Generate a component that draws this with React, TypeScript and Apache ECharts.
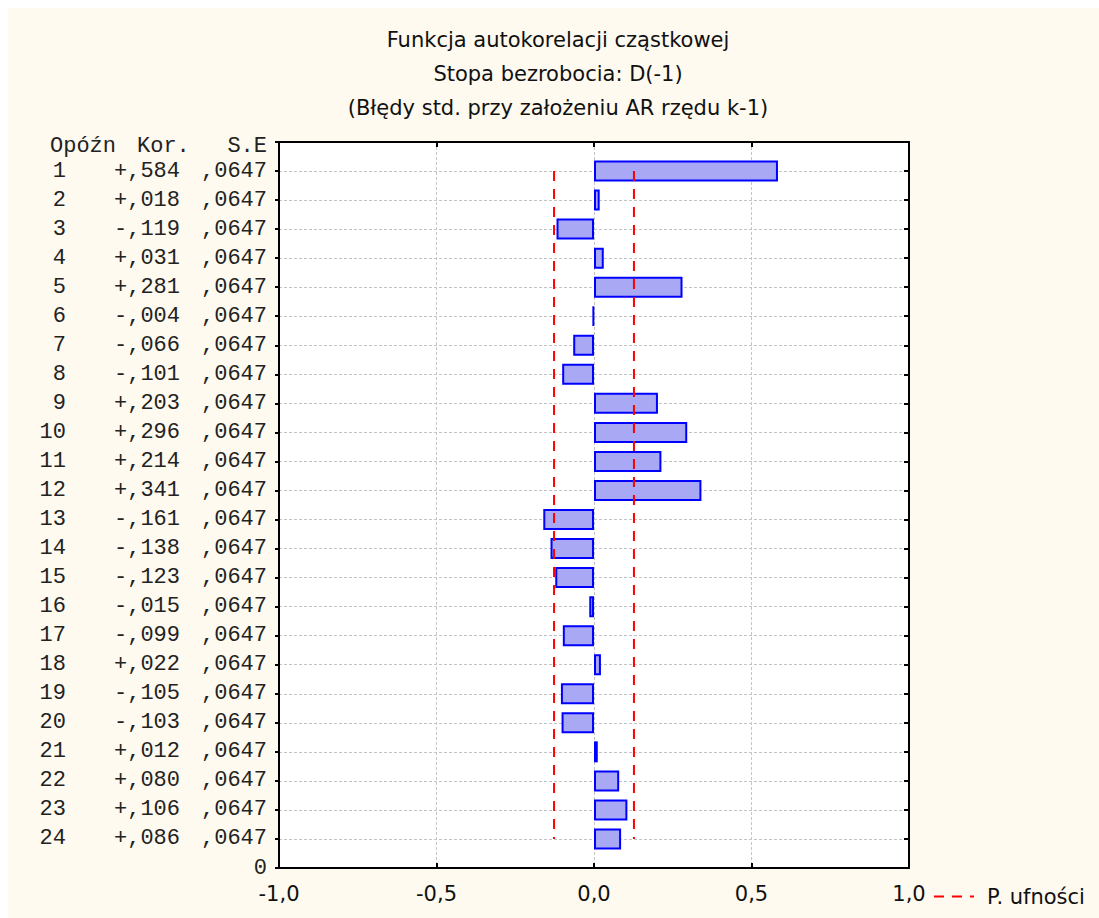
import React, { useEffect, useRef } from 'react';
import * as echarts from 'echarts';

// Partial autocorrelation function of D(-1) unemployment rate
const lags = [1, 2, 3, 4, 5, 6, 7, 8, 9, 10, 11, 12, 13, 14, 15, 16, 17, 18, 19, 20, 21, 22, 23, 24];
const pacf = [
  0.584, 0.018, -0.119, 0.031, 0.281, -0.004, -0.066, -0.101, 0.203, 0.296, 0.214, 0.341,
  -0.161, -0.138, -0.123, -0.015, -0.099, 0.022, -0.105, -0.103, 0.012, 0.08, 0.106, 0.086,
];
const stdErr = [
  0.0647, 0.0647, 0.0647, 0.0647, 0.0647, 0.0647, 0.0647, 0.0647, 0.0647, 0.0647, 0.0647, 0.0647,
  0.0647, 0.0647, 0.0647, 0.0647, 0.0647, 0.0647, 0.0647, 0.0647, 0.0647, 0.0647, 0.0647, 0.0647,
];
const zCrit = 1.96;
const titleLines = [
  'Funkcja autokorelacji cząstkowej',
  'Stopa bezrobocia: D(-1)',
  '(Błędy std. przy założeniu AR rzędu k-1)',
];
const headerCols = ['Opóźn', 'Kor.', 'S.E'];
const bottomLabel = '0';
const legendName = 'P. ufności';

const SANS = '"DejaVu Sans", "Liberation Sans", Arial, sans-serif';
const MONO = '"Liberation Mono", "Courier New", monospace';
const CREAM = '#fefaf0';

const fmtKor = (v: number) => (v < 0 ? '-' : '+') + ',' + Math.abs(v).toFixed(3).slice(2);
const fmtSe = (v: number) => ',' + v.toFixed(4).slice(2);

export default function App() {
  const ref = useRef<HTMLDivElement>(null);

  useEffect(() => {
    if (!ref.current) return;
    const chart = echarts.init(ref.current, undefined, { renderer: 'svg' });

    // rows top-to-bottom: blank header row, lags 1..24, bottom "0"
    const rows = ['', ...lags.map(String), bottomLabel];
    const n = rows.length;
    const pad = (arr: (number | string)[]) => ['-', ...arr, '-'];

    const barData = pad(pacf);
    const upper = pad(stdErr.map((s) => zCrit * s));
    const lower = pad(stdErr.map((s) => -zCrit * s));

    const gridLine = { show: true, lineStyle: { color: '#c4c4c4', width: 1, type: [3, 2] as number[] } };
    const axisLine = { show: true, onZero: false, lineStyle: { color: '#000', width: 2 } };
    const monoText = (align: string, text: string, x: number) => ({
      type: 'text',
      x,
      y: 138,
      style: { text, fontFamily: MONO, fontSize: 22, fill: '#222', textAlign: align, textVerticalAlign: 'middle' },
    });

    chart.setOption({
      animation: false,
      backgroundColor: CREAM,
      grid: { left: 271, top: 134, width: 630, height: 726, backgroundColor: '#fff', show: true, borderWidth: 0 },
      graphic: [
        ...titleLines.map((t, i) => ({
          type: 'text',
          x: 550,
          y: 32 + i * 34,
          style: {
            text: t,
            fontFamily: SANS,
            fontSize: 21,
            fill: '#111',
            textAlign: 'center',
            textVerticalAlign: 'middle',
          },
        })),
        monoText('left', headerCols[0], 42),
        monoText('left', headerCols[1], 129),
        monoText('right', headerCols[2], 259),
      ],
      legend: {
        data: [{ name: legendName }],
        left: 925,
        top: 878,
        padding: 0,
        itemWidth: 40,
        itemHeight: 14,
        itemStyle: { opacity: 0 },
        textStyle: { fontFamily: SANS, fontSize: 21, color: '#111', padding: [0, 0, 0, 8] },
      },
      xAxis: [
        {
          type: 'value',
          position: 'bottom',
          min: -1,
          max: 1,
          interval: 0.5,
          axisLine,
          axisTick: { show: true, inside: true, length: 5, lineStyle: { color: '#000', width: 2 } },
          axisLabel: {
            margin: 15,
            fontFamily: SANS,
            fontSize: 21,
            color: '#111',
            formatter: (v: number) => v.toFixed(1).replace('.', ','),
          },
          splitLine: gridLine,
        },
        {
          type: 'value',
          position: 'top',
          min: -1,
          max: 1,
          interval: 0.5,
          axisLine,
          axisTick: { show: true, inside: true, length: 5, lineStyle: { color: '#000', width: 2 } },
          axisLabel: { show: false },
          splitLine: { show: false },
        },
      ],
      yAxis: [
        {
          type: 'category',
          data: rows,
          inverse: true,
          boundaryGap: false,
          position: 'left',
          axisLine,
          axisTick: { show: true, inside: false, length: 4, interval: 0, lineStyle: { color: '#000', width: 2 } },
          axisLabel: {
            interval: 0,
            margin: 12,
            formatter: (_v: string, i: number) => {
              if (i === 0) return '';
              if (i === n - 1) return `{z|${rows[i]}}`;
              const k = i - 1;
              return `{l|${lags[k]}}{k|${fmtKor(pacf[k])}}{s|${fmtSe(stdErr[k])}}`;
            },
            rich: {
              l: { fontFamily: MONO, fontSize: 22, color: '#222', width: 30, align: 'right' },
              k: { fontFamily: MONO, fontSize: 22, color: '#222', width: 114, align: 'right' },
              s: { fontFamily: MONO, fontSize: 22, color: '#222', width: 87, align: 'right' },
              z: { fontFamily: MONO, fontSize: 22, color: '#222', align: 'right' },
            },
          },
          splitLine: { ...gridLine, interval: 0 },
        },
        {
          type: 'category',
          data: rows,
          inverse: true,
          boundaryGap: false,
          position: 'right',
          axisLine,
          axisTick: { show: true, inside: true, length: 5, interval: 0, lineStyle: { color: '#000', width: 2 } },
          axisLabel: { show: false },
          splitLine: { show: false },
        },
      ],
      series: [
        {
          type: 'bar',
          xAxisIndex: 0,
          yAxisIndex: 0,
          data: barData,
          barWidth: 21,
          itemStyle: { color: '#a8a8f4', borderColor: '#0000ff', borderWidth: 2 },
          z: 2,
        },
        {
          name: legendName,
          type: 'line',
          xAxisIndex: 0,
          yAxisIndex: 0,
          data: upper,
          symbol: 'none',
          lineStyle: { color: '#ff0000', width: 2, type: [10, 8] },
          itemStyle: { color: '#ff0000' },
          z: 3,
        },
        {
          name: legendName,
          type: 'line',
          xAxisIndex: 0,
          yAxisIndex: 0,
          data: lower,
          symbol: 'none',
          lineStyle: { color: '#ff0000', width: 2, type: [10, 8] },
          itemStyle: { color: '#ff0000' },
          z: 3,
        },
      ],
    });

    return () => chart.dispose();
  }, []);

  return (
    <div style={{ position: 'fixed', left: 8, top: 8, right: 0, bottom: 0, background: CREAM }}>
      <div ref={ref} style={{ width: '100%', height: '100%' }} />
    </div>
  );
}
